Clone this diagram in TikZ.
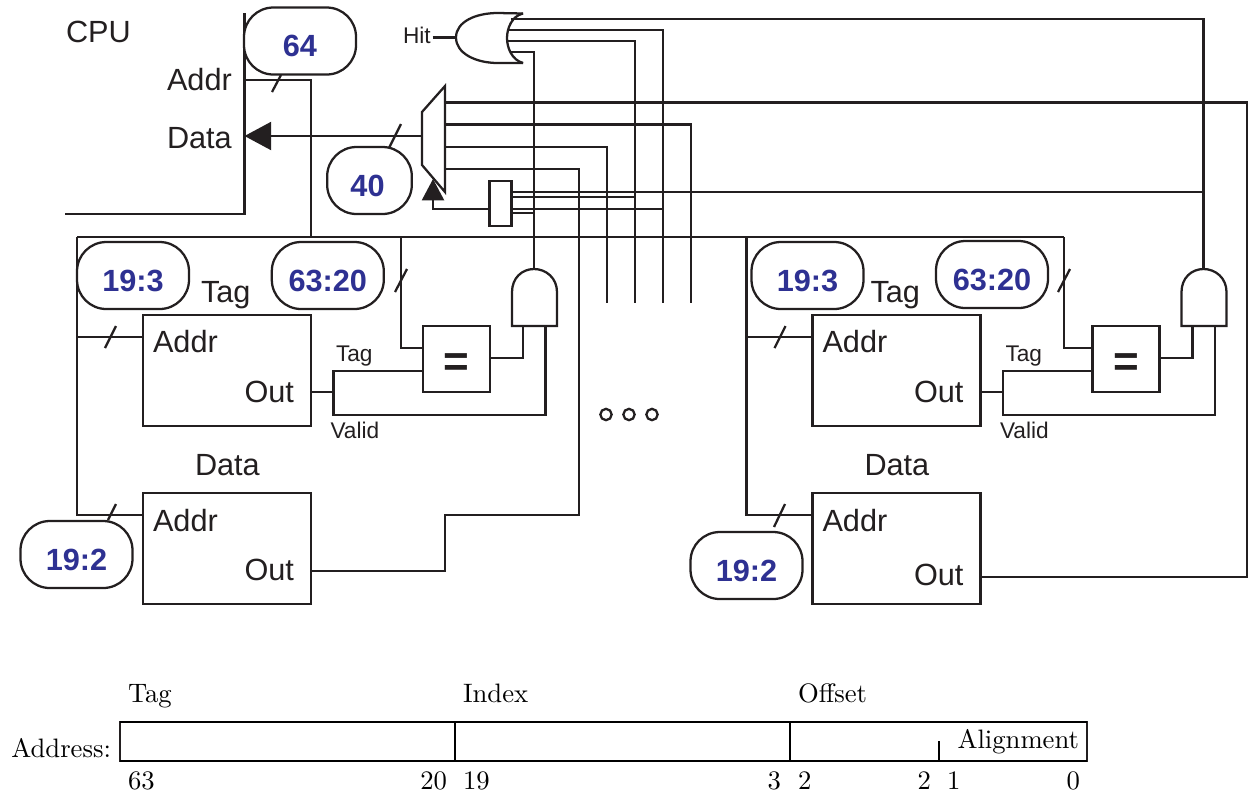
\documentclass[tikz,border=0pt]{standalone}
\usepackage{fontspec}
\setsansfont{Liberation Sans}
\newfontfamily\lmten{lmroman10-regular}[Extension=.otf]
\usetikzlibrary{arrows.meta}
\definecolor{ink}{HTML}{231F20}
\definecolor{pillblue}{HTML}{2E3192}
\tikzset{
  wire/.style={draw=ink,line width=1.7pt,line join=miter},
  slashmark/.style={draw=ink,line width=1.7pt},
  biglabel/.style={font=\sffamily\fontsize{23}{26}\selectfont,text=ink,inner sep=0pt,outer sep=0pt},
  smalllabel/.style={font=\sffamily\fontsize{17}{20}\selectfont,text=ink,inner sep=0pt,outer sep=0pt},
  romanlabel/.style={font=\lmten\fontsize{20}{23}\selectfont,text=black,inner sep=0pt,outer sep=0pt},
  memblock/.style={draw=ink,line width=1.7pt,fill=white,inner sep=0pt,outer sep=0pt,minimum width=126pt,minimum height=83.25pt},
  eqblock/.style={draw=ink,line width=1.7pt,fill=white,inner sep=0pt,outer sep=0pt,minimum width=50.25pt,minimum height=49.5pt,
    text height=26.25pt,text depth=0pt,
    font=\sffamily\bfseries\fontsize{33}{33}\selectfont,text=ink},
  pill/.style={draw=ink,line width=1.7pt,fill=white,rounded corners=22pt,inner sep=0pt,outer sep=0pt,
    minimum width=84pt,minimum height=50.25pt,text height=23.6pt,text depth=0pt,
    font=\sffamily\bfseries\fontsize{23}{26}\selectfont,text=pillblue},
  dot/.style={circle,draw=ink,line width=1.7pt,fill=white,inner sep=0pt,outer sep=0pt,minimum size=8.5pt},
  sel/.style={draw=ink,line width=1.7pt,fill=white,inner sep=0pt,outer sep=0pt,minimum width=16.5pt,minimum height=33.5pt},
}
% one way of the cache, in left-way coordinates: #1 y of data-out wire, #2 baseline of the data Out text
\newcommand{\cacheway}[2]{%
  \coordinate (busleft) at (77,237);
  \coordinate (taddr) at (77,337);
  \coordinate (daddr) at (77,515);
  \node[memblock] (tag) at (227,370.5) {};
  \node[memblock] (data) at (227,548.5) {};
  \node[eqblock] (eq) at (456.5,359) {=};
  \node[biglabel,anchor=base west] (tagtitle) at (201,302) {Tag};
  \node[biglabel,anchor=base west] (datatitle) at (195,475) {Data};
  \node[biglabel,anchor=base west] (tagaddr) at (153,352) {Addr};
  \node[biglabel,anchor=base east] (tagoutl) at (294,402) {Out};
  \node[biglabel,anchor=base west] (dataaddr) at (153,531) {Addr};
  \node[biglabel,anchor=base east] (dataoutl) at (294,#2) {Out};
  \node[smalllabel,anchor=base west] (taglbl) at (336,361.5) {Tag};
  \node[smalllabel,anchor=base west] (validlbl) at (330.5,438.5) {Valid};
  \coordinate (tout) at (333.5,392);
  \coordinate (ttag) at (333.5,371);
  \coordinate (tvalid) at (333.5,415);
  \coordinate (eqo) at (523,358);
  \coordinate (andone) at (523,326);
  \coordinate (andtwo) at (545.5,326);
  \coordinate (andout) at (534,269);
  \coordinate (dout) at (311,#1);
  \draw[wire] (busleft) -- (daddr) -- (data.west |- daddr);
  \draw[wire] (taddr) -- (tag.west |- taddr);
  \draw[wire] (tag.east |- tout) -- (tout);
  \draw[wire] (eq.west |- ttag) -- (ttag) -- (tvalid) -- (andtwo |- tvalid) -- (andtwo);
  \draw[wire] (eq.east |- eqo) -- (eqo) -- (andone);
  \draw[wire,fill=white] (512,326) -- (512,292) .. controls (512,278) and (522,269) .. (andout)
     .. controls (546,269) and (557,278) .. (557,292) -- (557,326) -- cycle;
  \draw[slashmark] (105,348) -- (116,326);
}
\begin{document}
\begin{tikzpicture}[x=0.75pt,y=-0.75pt]
\useasboundingbox (0,0) rectangle (1248,794);

% CPU
\node[biglabel,anchor=base west] (cpu) at (66,42) {CPU};
\node[biglabel,anchor=base west] (addrlbl) at (167,90) {Addr};
\node[biglabel,anchor=base west] (datalbl) at (167,148) {Data};
\coordinate (cputop) at (244.5,13);
\coordinate (cpucorner) at (244.5,214);
\coordinate (cpuleft) at (65,214);
\coordinate (cpuaddr) at (244.5,80);
\coordinate (cpudata) at (244.5,136);
\draw[wire] (cputop) -- (cpucorner) -- (cpuleft);

% address bus
\coordinate (busfeed) at (311,237);
\coordinate (lbus) at (77,237);
\coordinate (rbusend) at (1064,237);
\coordinate (ltagbus) at (401,237);
\draw[wire] (cpuaddr) -| (busfeed);
\draw[wire] (lbus) -- (rbusend);

% the two ways
\begin{scope}[name prefix=l-]
  \cacheway{571}{580}
\end{scope}
\begin{scope}[shift={(669.5,0)},name prefix=r-]
  \cacheway{576.7}{585.5}
\end{scope}
\draw[slashmark] (108,520) -- (116,504);
\draw[slashmark] (774,527) -- (785,504);

% tag comparators' address inputs
\coordinate (ltagin) at (401,348);
\coordinate (rtagin) at (1064,348);
\draw[wire] (ltagbus) -- (ltagin) -- (l-eq.west |- ltagin);
\draw[wire] (rbusend) -- (rtagin) -- (r-eq.west |- rtagin);
\draw[slashmark] (395,292) -- (407,269);
\draw[slashmark] (1058,292) -- (1070,269);

% Hit OR gate
\node[smalllabel,anchor=base west] (hit) at (403,43) {Hit};
\coordinate (orout) at (456,37.5);
\coordinate (orfeedone) at (511,19);
\coordinate (orfeedtwo) at (507,30);
\coordinate (orfeedthree) at (507,41);
\coordinate (orfeedfour) at (511,52);
\coordinate (colA) at (579,515);
\coordinate (colB) at (607,303);
\coordinate (colC) at (635,303);
\coordinate (colD) at (663,303);
\coordinate (colE) at (690.7,303);
\draw[wire] (hit.east |- orout) ++(2,0) -- (orout);
\draw[wire] (orfeedone) -| (r-andout);
\draw[wire] (orfeedtwo) -| (colD);
\draw[wire] (orfeedthree) -| (colC);
\draw[wire] (orfeedfour) -| (l-andout);
\draw[wire] (523,13.5) -- (498,13) .. controls (475,13) and (456,22) .. (orout)
   .. controls (456,53) and (475,63) .. (498,63) -- (523,63);
\draw[wire] (523,13.5) .. controls (512,16) and (507,28) .. (507,38)
   .. controls (507,48) and (512,60) .. (523,63);

% multiplexer
\coordinate (muxin) at (422,136);
\coordinate (muxA) at (445,102.5);
\coordinate (muxB) at (445,124.5);
\coordinate (muxC) at (445,147);
\coordinate (muxD) at (445,169);
\coordinate (edge) at (1247,102.5);
\coordinate (edgelow) at (1247,576.7);
\coordinate (stepA) at (445,515);
\coordinate (stepB) at (445,571);
\draw[wire] (muxA) -- (edge) -- (edgelow) -- (r-dout);
\draw[wire] (muxB) -| (colE);
\draw[wire] (muxC) -| (colB);
\draw[wire] (muxD) -| (colA) -- (stepA) -- (stepB) -- (l-dout);
\draw[wire,-{Triangle[length=20pt,width=21pt]}] (muxin) -- (cpudata);
\draw[slashmark] (389,148) -- (401,124);
\draw[slashmark] (272,92) -- (281,75);
\draw[wire,fill=white] (445,86) -- (445,192) -- (422,165) -- (422,112) -- cycle;

% way select encoder
\node[sel] (enc) at (500.5,203.3) {};
\coordinate (selcorner) at (433,208.7);
\coordinate (seltip) at (433,179);
\draw[wire,-{Triangle[length=16pt,width=16.5pt]}] (enc.west |- selcorner) -- (selcorner) -- (seltip);
\coordinate (encA) at (1203.5,191.7);
\coordinate (encB) at (635,197);
\coordinate (encC) at (663,208.7);
\coordinate (encD) at (534,213);
\draw[wire] (enc.east |- encA) -- (encA);
\draw[wire] (enc.east |- encB) -- (encB);
\draw[wire] (enc.east |- encC) -- (encC);
\draw[wire] (enc.east |- encD) -- (encD);

% ellipsis
\node[dot] (dotA) at (606,414.5) {};
\node[dot] (dotB) at (629,414.5) {};
\node[dot] (dotC) at (652,414.5) {};

% width pills
\node[pill] (pA) at (300,41) {64};
\node[pill,minimum width=63.5pt] (pB) at (369.5,180.5) {\hspace*{-3pt}40};
\node[pill] (pC) at (133,275.5) {19:3};
\node[pill] (pD) at (327.8,275.5) {63:20};
\node[pill] (pE) at (76.5,554.5) {19:2};
\node[pill] (pF) at (807.5,275.5) {19:3};
\node[pill] (pG) at (992,274.5) {63:20};
\node[pill] (pH) at (746.5,565.5) {19:2};

% address format
\node[draw=ink,line width=1pt,inner sep=0pt,outer sep=0pt,minimum width=725.25pt,minimum height=29.25pt] (reg) at (603.5,741.5) {};
\draw[draw=black,line width=1.9pt] (reg.north west) -- (reg.north east);
\draw[draw=black,line width=1.9pt] (reg.south west) -- (reg.south east);
\coordinate (divA) at (455,741);
\coordinate (divB) at (790,741);
\coordinate (divC) at (939,741);
\draw[draw=black,line width=1.1pt] (divA |- reg.north) -- (divA |- reg.south);
\draw[draw=black,line width=1.1pt] (divB |- reg.north) -- (divB |- reg.south);
\draw[draw=black,line width=1.1pt] (divC) -- (divC |- reg.south);
\node[romanlabel,anchor=base west] (fTag) at (128,702) {Tag};
\node[romanlabel,anchor=base west] (fIndex) at (463,702) {Index};
\node[romanlabel,anchor=base west] (fOffset) at (798,702) {Offset};
\node[romanlabel,anchor=base east] (fAddress) at (111,757) {Address:};
\node[romanlabel,anchor=base east] (fAlign) at (1079,748) {Alignment};
\node[romanlabel,anchor=base west] (nA) at (128,789) {63};
\node[romanlabel,anchor=base east] (nB) at (447,789) {20};
\node[romanlabel,anchor=base west] (nC) at (463,789) {19};
\node[romanlabel,anchor=base east] (nD) at (781,789) {3};
\node[romanlabel,anchor=base west] (nE) at (798,789) {2};
\node[romanlabel,anchor=base east] (nF) at (931,789) {2};
\node[romanlabel,anchor=base west] (nG) at (947,789) {1};
\node[romanlabel,anchor=base east] (nH) at (1080,789) {0};
\end{tikzpicture}
\end{document}
